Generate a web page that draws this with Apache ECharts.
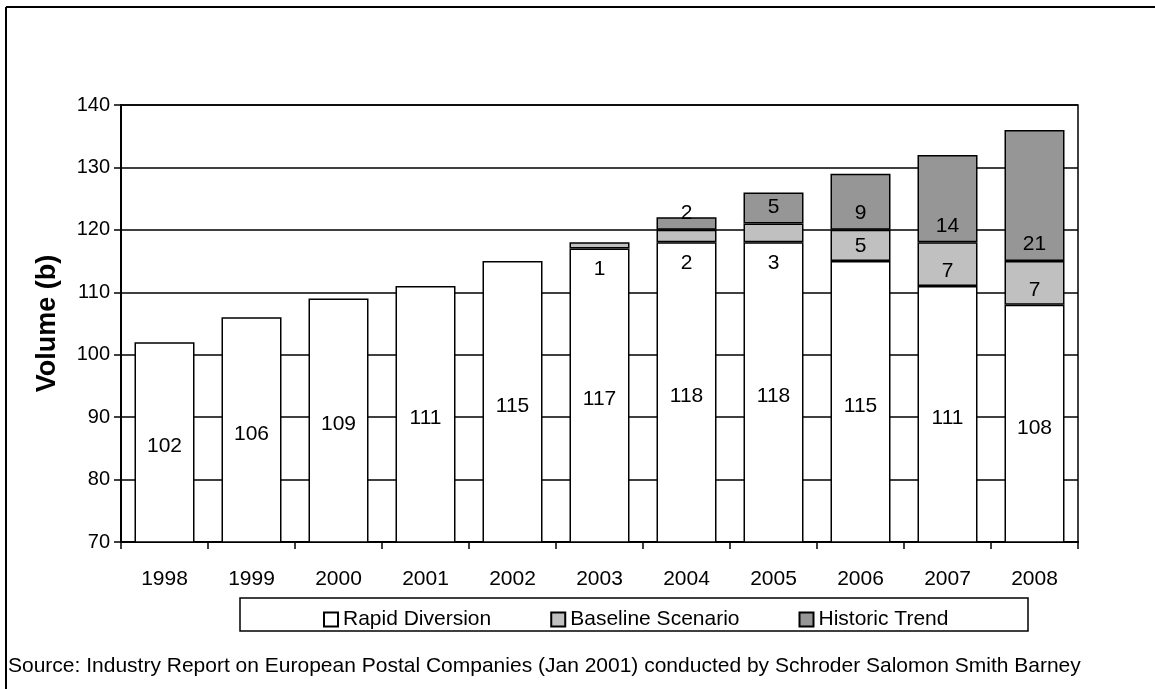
<!DOCTYPE html>
<html>
<head>
<meta charset="utf-8">
<script src="https://cdn.jsdelivr.net/npm/echarts@6/dist/echarts.min.js"></script>
<style>
  html,body{margin:0;padding:0;background:#fff;}
  #chart{width:1155px;height:689px;}
</style>
</head>
<body>
<div id="chart"></div>
<script>
const FONT = "Liberation Sans";
const years = ['1998','1999','2000','2001','2002','2003','2004','2005','2006','2007','2008'];
const rapid = [102,106,109,111,115,117,118,118,115,111,108];
const baseline = [null,null,null,null,null,1,2,3,5,7,7];
const historic = [null,null,null,null,null,null,2,5,9,14,21];
const names = ['Rapid Diversion','Baseline Scenario','Historic Trend'];

const COLORS = { rapid:'#ffffff', baseline:'#c0c0c0', historic:'#969696' };
const border = { borderColor:'#000', borderWidth:1.5 };
const lbl = { show:true, color:'#000', fontFamily:FONT, fontSize:21 };

const c = echarts.init(document.getElementById('chart'), null, {renderer:'canvas'});
c.setOption({
  backgroundColor:'#fff',
  animation:false,
  textStyle:{fontFamily:FONT},
  grid:{left:121, right:77, top:105, bottom:147, show:true, borderColor:'#000', borderWidth:1.5,
    backgroundColor:'transparent'},
  legend:{
    data:names, left:318, top:604, itemWidth:14, itemHeight:14, itemGap:59,
    icon:'rect', textStyle:{color:'#000', fontSize:21, fontFamily:FONT}
  },
  xAxis:{
    type:'category', data:years,
    axisLine:{lineStyle:{color:'#000', width:2}},
    axisTick:{show:true, length:7, lineStyle:{color:'#000', width:1.5}},
    axisLabel:{color:'#000', fontSize:21, fontFamily:FONT, margin:27}
  },
  yAxis:{
    type:'value', min:70, max:140, interval:10,
    name:'Volume (b)', nameLocation:'middle', nameGap:60, nameRotate:90,
    nameTextStyle:{color:'#000', fontSize:27, fontWeight:'bold', fontFamily:'Arial, Liberation Sans, sans-serif'},
    axisLine:{show:true, lineStyle:{color:'#000', width:2}},
    axisTick:{show:true, length:7, lineStyle:{color:'#000', width:1.5}},
    axisLabel:{color:'#000', fontSize:20, fontFamily:FONT, margin:11},
    splitLine:{show:true, lineStyle:{color:'#000', width:1.5}}
  },
  series:[
    { name:names[0], type:'bar', stack:'v', barWidth:60,
      itemStyle:{color:COLORS.rapid, ...border},
      label:{...lbl, position:'inside', offset:[0,4]},
      data:rapid },
    { name:names[1], type:'bar', stack:'v', barWidth:60,
      itemStyle:{color:COLORS.baseline, ...border},
      data:baseline.map(v => v==null ? null : {value:v,
        label:{...lbl, position: v<=3 ? 'bottom' : 'insideBottom', distance: v<=3 ? 10 : 4}}) },
    { name:names[2], type:'bar', stack:'v', barWidth:60,
      itemStyle:{color:COLORS.historic, ...border},
      label:{...lbl, position:'insideBottom', distance:6},
      data:historic }
  ],
  graphic:[
    { type:'line', shape:{x1:6, y1:7, x2:6, y2:689}, style:{stroke:'#000', lineWidth:2} },
    { type:'line', shape:{x1:6, y1:7, x2:1155, y2:7}, style:{stroke:'#000', lineWidth:2} },
    { type:'rect', z:-1, shape:{x:240, y:598, width:788, height:33},
      style:{fill:'#fff', stroke:'#000', lineWidth:1.5} },
    { type:'text', left:8, top:656,
      style:{text:'Source: Industry Report on European Postal Companies (Jan 2001) conducted by Schroder Salomon Smith Barney',
        fill:'#000', font:"21px 'Liberation Sans'"} }
  ]
});
</script>
</body>
</html>
